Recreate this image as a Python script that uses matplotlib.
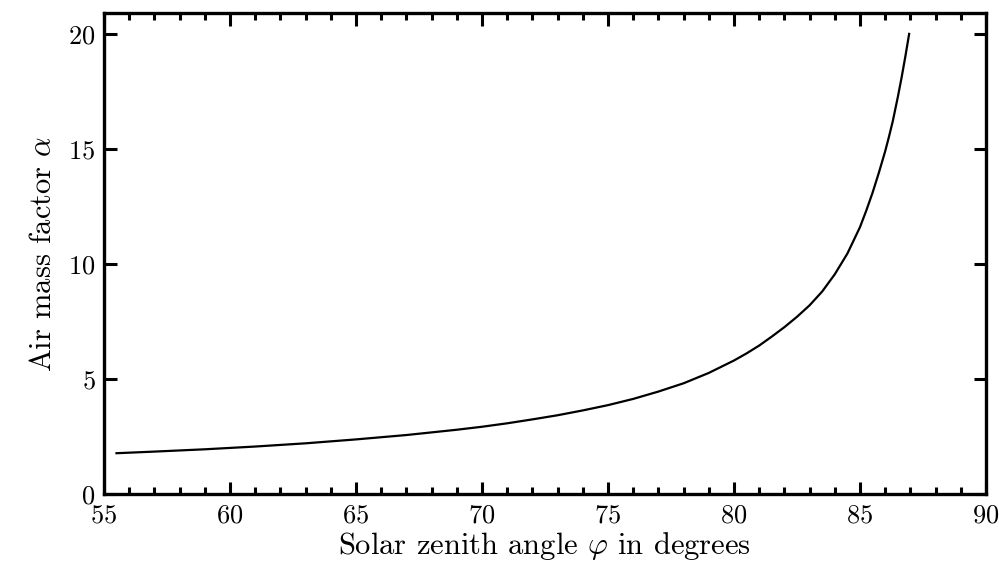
import matplotlib
matplotlib.use("Agg")
import matplotlib.pyplot as plt
from matplotlib.ticker import MultipleLocator

# Dados (ângulo zenital solar x fator de massa de ar)
angulo = [55.5, 57, 59, 61, 63, 65, 67, 69, 70, 71, 72, 73, 74, 75, 76, 77, 78,
          79, 80, 80.5, 81, 81.5, 82, 82.5, 83, 83.5, 84, 84.5, 85, 85.25, 85.5,
          85.75, 86, 86.15, 86.3, 86.5, 86.65, 86.8, 86.95]
fator = [1.77, 1.84, 1.94, 2.06, 2.20, 2.37, 2.56, 2.79, 2.92, 3.07, 3.24, 3.42,
         3.63, 3.86, 4.13, 4.45, 4.81, 5.26, 5.80, 6.11, 6.45, 6.84, 7.25, 7.70,
         8.20, 8.80, 9.55, 10.45, 11.60, 12.32, 13.10, 13.97, 14.90, 15.53, 16.20,
         17.25, 18.10, 19.02, 20.0]

plt.rcParams["font.family"] = "serif"
plt.rcParams["font.serif"] = ["cmr10"]
plt.rcParams["mathtext.fontset"] = "cm"
plt.rcParams["axes.formatter.use_mathtext"] = True

fig = plt.figure(figsize=(9.99, 5.73), dpi=100)
ax = fig.add_axes([0.104, 0.138, 0.883, 0.839])

ax.plot(angulo, fator, color="black", linewidth=1.6)

ax.set_xlim(55, 90)
ax.set_ylim(0, 20.9)
ax.xaxis.set_major_locator(MultipleLocator(5))
ax.xaxis.set_minor_locator(MultipleLocator(1))
ax.yaxis.set_major_locator(MultipleLocator(5))

ax.tick_params(which="both", direction="in", top=True, right=True,
               color="black", labelsize=19)
ax.tick_params(which="major", length=9, width=2.2)
ax.tick_params(which="minor", length=5, width=2.2)
ax.tick_params(axis="x", pad=7)
ax.tick_params(axis="y", pad=6)

for s in ax.spines.values():
    s.set_linewidth(2.4)

ax.set_xlabel(r"Solar zenith angle $\varphi$ in degrees", fontsize=22, labelpad=2)
ax.set_ylabel(r"Air mass factor $\alpha$", fontsize=22, labelpad=8)

fig.savefig("out.png", dpi=100)
